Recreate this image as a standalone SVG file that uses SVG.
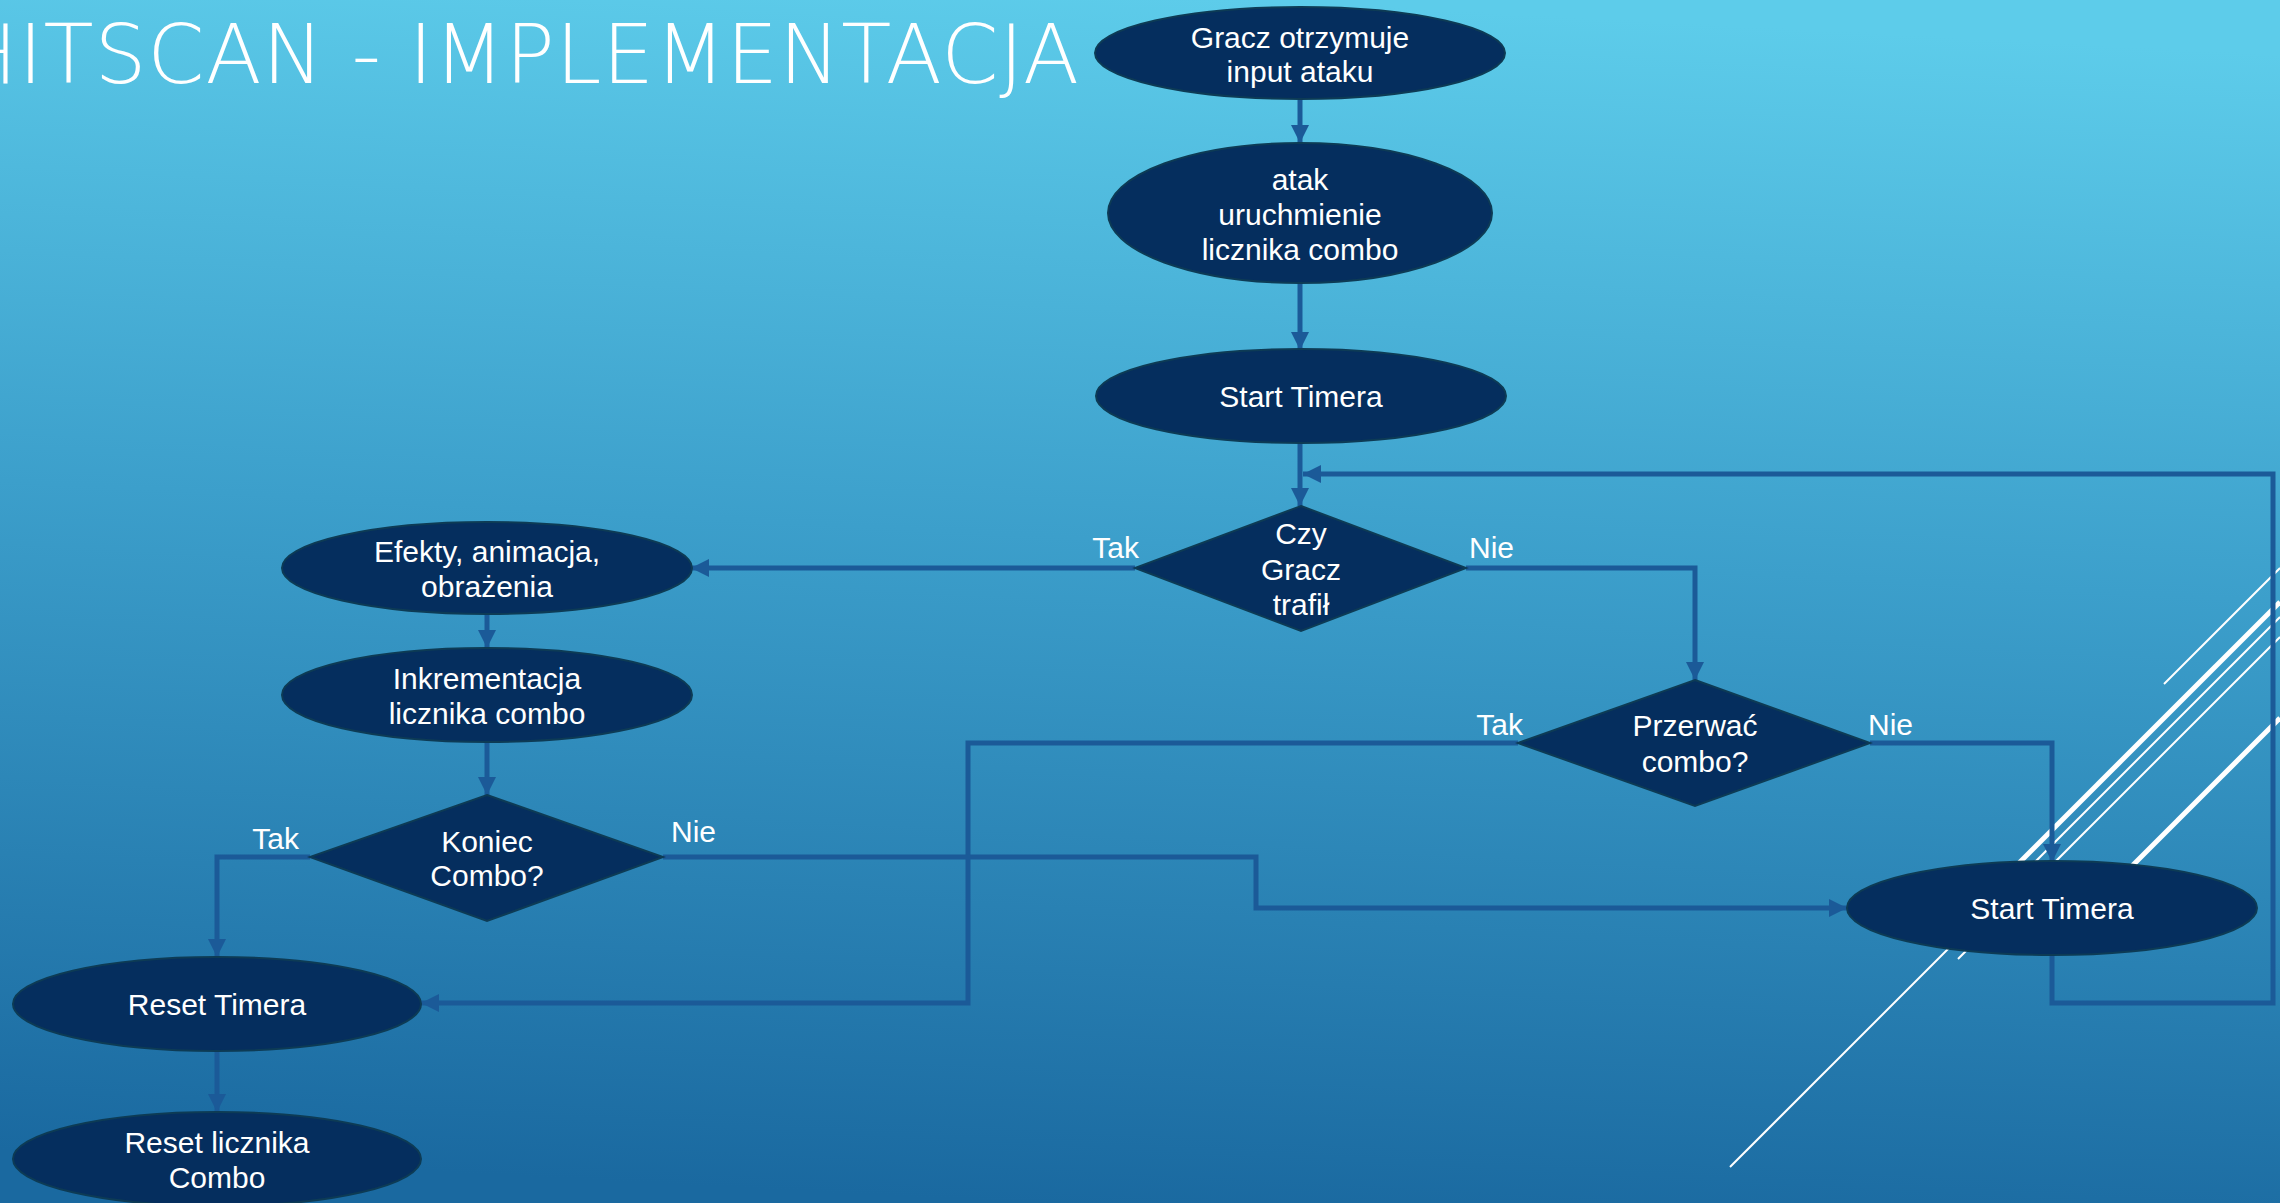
<svg xmlns="http://www.w3.org/2000/svg" width="2280" height="1203" viewBox="0 0 2280 1203">
<defs>
<linearGradient id="bg" x1="0.55" y1="0" x2="0.45" y2="1">
<stop offset="0" stop-color="#5DCCEA"/>
<stop offset="0.45" stop-color="#3C9FCB"/>
<stop offset="1" stop-color="#1A69A0"/>
</linearGradient>
<marker id="a" markerUnits="userSpaceOnUse" markerWidth="20" markerHeight="18" refX="18" refY="9" orient="auto">
<path d="M0,0 L18,9 L0,18 z" fill="#1B5A98"/>
</marker>
<style>
.n{fill:#052E5E;stroke:#0D3B55;stroke-width:2}
.t{fill:#FFFFFF;font-family:"Liberation Sans",Arial,sans-serif;font-size:30px;text-anchor:middle}
.l{fill:#FFFFFF;font-family:"Liberation Sans",Arial,sans-serif;font-size:30px}
.c{fill:none;stroke:#1B5A98;stroke-width:5}
.ca{fill:none;stroke:#1B5A98;stroke-width:5;marker-end:url(#a)}
.w{stroke:#FFFFFF;fill:none}
</style>
</defs>
<rect x="0" y="0" width="2280" height="1203" fill="url(#bg)"/>
<g id="decor">
<line class="w" x1="2164" y1="684" x2="2280" y2="568" stroke-width="2"/>
<line class="w" x1="1990" y1="892" x2="2280" y2="602" stroke-width="5"/>
<line class="w" x1="1730" y1="1167" x2="2280" y2="617" stroke-width="2"/>
<line class="w" x1="1958" y1="959" x2="2280" y2="637" stroke-width="2"/>
<line class="w" x1="2120" y1="878" x2="2280" y2="718" stroke-width="5"/>
</g>
<text id="title" x="-44" y="83" textLength="1123" lengthAdjust="spacing" style="fill:#FFFFFF;font-family:'DejaVu Sans','Liberation Sans',sans-serif;font-size:82px;font-weight:200">HITSCAN - IMPLEMENTACJA</text>
<g id="connectors">
<path class="ca" d="M1300,100 V143"/>
<path class="ca" d="M1300,283 V350"/>
<path class="ca" d="M1300,443 V506"/>
<path class="ca" d="M2052,955 V1003 H2273 V474 H1303"/>
<path class="ca" d="M1135,568 H691"/>
<path class="ca" d="M1466,568 H1695 V680"/>
<path class="ca" d="M1870,743 H2052 V862"/>
<path class="ca" d="M1518,743 H968 V1003 H421"/>
<path class="ca" d="M487,614 V648"/>
<path class="ca" d="M487,741 V795"/>
<path class="ca" d="M310,857 H217 V957"/>
<path class="ca" d="M663,857 H1256 V908 H1847"/>
<path class="ca" d="M217,1052 V1112"/>
</g>
<g id="labels">
<text class="l" x="1139" y="558" text-anchor="end">Tak</text>
<text class="l" x="1469" y="558">Nie</text>
<text class="l" x="1523" y="735" text-anchor="end">Tak</text>
<text class="l" x="1868" y="735">Nie</text>
<text class="l" x="299" y="849" text-anchor="end">Tak</text>
<text class="l" x="671" y="842">Nie</text>
</g>
<g id="n1"><ellipse class="n" cx="1300" cy="53" rx="205" ry="46"/><text class="t" x="1300" y="48">Gracz otrzymuje</text><text class="t" x="1300" y="82">input ataku</text></g>
<g id="n2"><ellipse class="n" cx="1300" cy="213" rx="192" ry="70"/><text class="t" x="1300" y="190">atak</text><text class="t" x="1300" y="225">uruchmienie</text><text class="t" x="1300" y="260">licznika combo</text></g>
<g id="n3"><ellipse class="n" cx="1301" cy="396" rx="205" ry="47"/><text class="t" x="1301" y="407">Start Timera</text></g>
<g id="n4"><polygon class="n" points="1301,506 1466,568 1301,631 1135,568"/><text class="t" x="1301" y="544">Czy</text><text class="t" x="1301" y="580">Gracz</text><text class="t" x="1301" y="615">trafił</text></g>
<g id="n5"><polygon class="n" points="1695,680 1870,743 1695,806 1518,743"/><text class="t" x="1695" y="736">Przerwać</text><text class="t" x="1695" y="772">combo?</text></g>
<g id="n6"><ellipse class="n" cx="2052" cy="908" rx="205" ry="47"/><text class="t" x="2052" y="919">Start Timera</text></g>
<g id="n7"><ellipse class="n" cx="487" cy="568" rx="205" ry="46"/><text class="t" x="487" y="562">Efekty, animacja,</text><text class="t" x="487" y="597">obrażenia</text></g>
<g id="n8"><ellipse class="n" cx="487" cy="695" rx="205" ry="47"/><text class="t" x="487" y="689">Inkrementacja</text><text class="t" x="487" y="724">licznika combo</text></g>
<g id="n9"><polygon class="n" points="487,795 663,857 487,921 310,857"/><text class="t" x="487" y="852">Koniec</text><text class="t" x="487" y="886">Combo?</text></g>
<g id="n10"><ellipse class="n" cx="217" cy="1004" rx="204" ry="47"/><text class="t" x="217" y="1015">Reset Timera</text></g>
<g id="n11"><ellipse class="n" cx="217" cy="1159" rx="204" ry="47"/><text class="t" x="217" y="1153">Reset licznika</text><text class="t" x="217" y="1188">Combo</text></g>
</svg>
